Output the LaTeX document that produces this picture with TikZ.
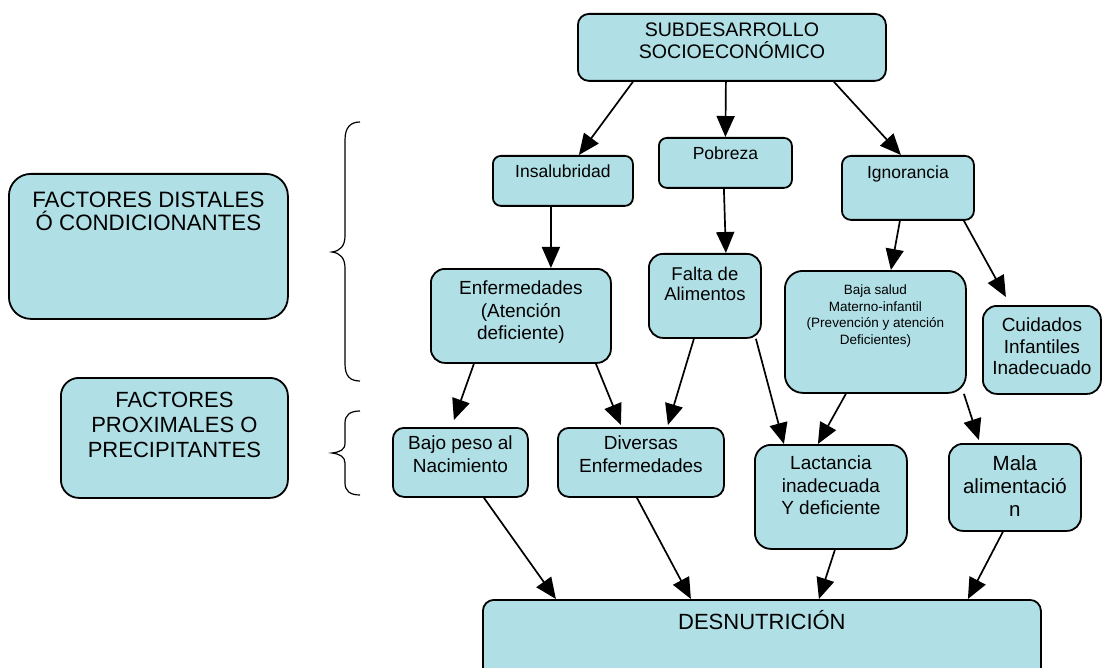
\documentclass[tikz,border=0pt]{standalone}
\usepackage{fontspec}
\setmainfont{Liberation Sans}
\usetikzlibrary{arrows.meta}

\definecolor{boxfill}{RGB}{176,224,230}

\tikzset{
    box/.style={draw=black, line width=1.8pt, fill=boxfill, rounded corners=11pt, anchor=north west, inner sep=0pt},
    txt/.style={anchor=north, align=center, inner sep=0pt, font=\fontsize{19}{22.5}\selectfont},
    arr/.style={line width=1.7pt, -{Triangle[length=21pt,width=18pt]}},
    brace/.style={line width=1.2pt}
}

\begin{document}
\begin{tikzpicture}[x=1pt, y=-1pt]
    \useasboundingbox (0,0) rectangle (1102,668);

    % boxes
    \node[box, minimum width=308pt, minimum height=67pt] (sub) at (577,13) {};
    \node[box, minimum width=140pt, minimum height=50pt, rounded corners=8pt] (insal) at (492,155) {};
    \node[box, minimum width=133pt, minimum height=50pt, rounded corners=8pt] (pobreza) at (658,137) {};
    \node[box, minimum width=132pt, minimum height=64pt, rounded corners=9pt] (ignor) at (841,155) {};
    \node[box, minimum width=180pt, minimum height=94pt, rounded corners=14pt] (enf) at (430,268) {};
    \node[box, minimum width=112pt, minimum height=84pt, rounded corners=14pt] (falta) at (648,253) {};
    \node[box, minimum width=181pt, minimum height=122pt, rounded corners=18pt] (baja) at (784,270) {};
    \node[box, minimum width=118pt, minimum height=88pt, rounded corners=14pt] (cuid) at (982,305) {};
    \node[box, minimum width=135pt, minimum height=69pt] (bajo) at (392,427) {};
    \node[box, minimum width=166pt, minimum height=69pt] (divers) at (557,427) {};
    \node[box, minimum width=152pt, minimum height=104pt, rounded corners=16pt] (lact) at (754,444) {};
    \node[box, minimum width=132pt, minimum height=87pt, rounded corners=14pt] (mala) at (948,443) {};
    \node[box, minimum width=558pt, minimum height=91pt] (desn) at (482,599) {};
    \node[box, minimum width=279pt, minimum height=145pt, rounded corners=22pt] (distal) at (8,173) {};
    \node[box, minimum width=227pt, minimum height=120pt, rounded corners=18pt] (prox) at (60,377) {};

    % texts
    \node[txt, font=\fontsize{19.6}{22}\selectfont] at ([yshift=-10pt]sub.north) {SUBDESARROLLO\\SOCIOECONÓMICO};
    \node[txt, font=\fontsize{17.5}{21}\selectfont] at ([yshift=-9.5pt]insal.north) {Insalubridad};
    \node[txt, font=\fontsize{17.5}{21}\selectfont] at ([yshift=-9.5pt]pobreza.north) {Pobreza};
    \node[txt, font=\fontsize{17.5}{21}\selectfont] at ([yshift=-11pt]ignor.north) {Ignorancia};
    \node[txt] at ([yshift=-13pt]enf.north) {Enfermedades\\(Atención\\deficiente)};
    \node[txt, font=\fontsize{18.5}{20}\selectfont] at ([yshift=-14pt]falta.north) {Falta de\\Alimentos};
    \node[txt, font=\fontsize{13.5}{16.5}\selectfont] at ([yshift=-15pt]baja.north) {Baja salud\\Materno-infantil\\(Prevención y atención\\Deficientes)};
    \node[txt, font=\fontsize{19}{21.5}\selectfont] at ([yshift=-13pt]cuid.north) {Cuidados\\Infantiles\\Inadecuado};
    \node[txt, font=\fontsize{19}{23}\selectfont] at ([yshift=-9pt]bajo.north) {Bajo peso al\\Nacimiento};
    \node[txt, font=\fontsize{19}{23}\selectfont] at ([yshift=-9pt]divers.north) {Diversas\\Enfermedades};
    \node[txt] at ([yshift=-12pt]lact.north) {Lactancia\\inadecuada\\Y deficiente};
    \node[txt, font=\fontsize{20.5}{23}\selectfont] at ([yshift=-12pt]mala.north) {Mala\\alimentació\\n};
    \node[txt, font=\fontsize{22}{25}\selectfont] at ([yshift=-11pt]desn.north) {DESNUTRICIÓN};
    \node[txt, font=\fontsize{22.3}{23}\selectfont] at ([yshift=-19pt]distal.north) {FACTORES DISTALES\\Ó CONDICIONANTES};
    \node[txt, font=\fontsize{22}{25}\selectfont] at ([yshift=-15pt]prox.north) {FACTORES\\PROXIMALES O\\PRECIPITANTES};

    % arrows
    \draw[arr] ([xshift=-99pt]sub.south) -- ([xshift=16pt]insal.north);
    \draw[arr] ([xshift=-6pt]sub.south) -- (pobreza.north);
    \draw[arr] ([xshift=102pt]sub.south) -- ([xshift=-7pt]ignor.north);
    \draw[arr] ([xshift=-12pt]insal.south) -- ([xshift=30pt]enf.north);
    \draw[arr] ([xshift=-1.5pt]pobreza.south) -- ([xshift=21pt]falta.north);
    \draw[arr] ([xshift=-8pt]ignor.south) -- ([xshift=15.5pt]baja.north);
    \draw[arr] ([xshift=56pt]ignor.south) -- ([xshift=-36pt,yshift=8pt]cuid.north);
    \draw[arr] ([xshift=-47pt]enf.south) -- ([xshift=-6.5pt,yshift=7pt]bajo.north);
    \draw[arr] ([xshift=75pt]enf.south) -- ([xshift=-20pt,yshift=2pt]divers.north);
    \draw[arr] ([xshift=-11pt]falta.south) -- ([xshift=27pt,yshift=2pt]divers.north);
    \draw[arr] ([xshift=51pt]falta.south) -- ([xshift=-47pt]lact.north);
    \draw[arr] ([xshift=-29.5pt]baja.south) -- ([xshift=-13pt]lact.north);
    \draw[arr] ([xshift=88.5pt]baja.south) -- ([xshift=-36pt,yshift=3pt]mala.north);
    \draw[arr] ([xshift=23.5pt]bajo.south) -- ([xshift=-206pt]desn.north);
    \draw[arr] ([xshift=-4pt]divers.south) -- ([xshift=-71pt]desn.north);
    \draw[arr] ([xshift=4pt]lact.south) -- ([xshift=57pt]desn.north);
    \draw[arr] ([xshift=-12pt]mala.south) -- ([xshift=206pt]desn.north);

    % braces
    \draw[brace] (360,122) .. controls (350,122) and (345,128) .. (345,140) -- (345,236)
        .. controls (345,246) and (340,251) .. (332,252) .. controls (340,253) and (345,258) .. (345,268)
        -- (345,364) .. controls (345,376) and (350,381) .. (360,381);
    \draw[brace] (360,411) .. controls (350,411) and (345,415) .. (345,423) -- (345,443)
        .. controls (345,450) and (340,452) .. (332,453) .. controls (340,454) and (345,457) .. (345,463)
        -- (345,483) .. controls (345,491) and (350,495) .. (360,495);
\end{tikzpicture}
\end{document}
